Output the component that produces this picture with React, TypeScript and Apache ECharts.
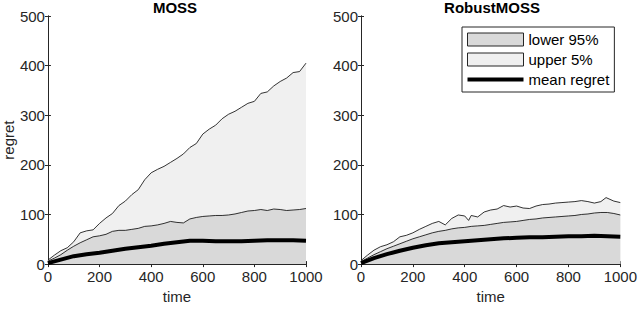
import React, { useEffect, useRef } from "react";
import * as echarts from "echarts";

const T25 = [0, 25, 50, 75, 100, 125, 150, 175, 200, 225, 250, 275, 300, 325, 350, 375, 400, 425, 450, 475, 500, 525, 550, 575, 600, 625, 650, 675, 700, 725, 750, 775, 800, 825, 850, 875, 900, 925, 950, 975, 1000];
const T50 = [0, 50, 100, 150, 200, 250, 300, 350, 400, 450, 500, 550, 600, 650, 700, 750, 800, 850, 900, 950, 1000];

const mossUpper = [8, 18, 27, 33, 45, 63, 67, 69, 82, 93, 102, 118, 127, 140, 150, 170, 184, 191, 197, 205, 213, 222, 235, 243, 262, 272, 280, 293, 302, 308, 316, 324, 328, 344, 347, 359, 368, 375, 386, 388, 405];
const mossLower = [6, 12, 19, 28, 36, 43, 49, 55, 57, 60, 66, 68, 68, 70, 72, 76, 77, 79, 82, 86, 84, 83, 91, 94, 96, 97, 98, 98, 99, 101, 104, 107, 108, 110, 108, 111, 110, 108, 109, 110, 112];
const mossMean = [2, 9, 16, 20, 23, 27, 31, 34, 37, 41, 44, 47, 47, 46, 46, 46, 47, 48, 48, 48, 47];

const robustUpperT = [0, 25, 50, 75, 100, 125, 150, 175, 200, 225, 250, 275, 300, 325, 350, 375, 400, 415, 425, 450, 475, 500, 525, 550, 575, 600, 625, 650, 675, 700, 725, 750, 775, 800, 825, 850, 875, 900, 925, 945, 975, 1000];
const robustUpper = [7, 18, 28, 35, 39, 45, 55, 58, 63, 70, 76, 82, 86, 79, 92, 99, 97, 88, 98, 95, 105, 109, 111, 118, 115, 117, 113, 112, 117, 120, 121, 123, 124, 125, 126, 128, 126, 123, 126, 134, 127, 124];
const robustLower = [5, 12, 19, 25, 31, 36, 41, 46, 51, 55, 59, 63, 66, 68, 71, 73, 74, 76, 77, 78, 80, 82, 84, 85, 86, 88, 90, 91, 93, 94, 95, 96, 97, 98, 100, 101, 103, 104, 104, 102, 99];
const robustMean = [2, 12, 20, 27, 33, 38, 42, 44, 46, 48, 50, 52, 53, 54, 54, 55, 56, 56, 57, 56, 55];

const xTicks = [0, 200, 400, 600, 800, 1000];
const yTicks = [0, 100, 200, 300, 400, 500];
const titles = ["MOSS", "RobustMOSS"];
const names = ["lower 95%", "upper 5%", "mean regret"];

const zip = (t: number[], v: number[]) => t.map((x, i) => [x, v[i]]);

const FONT = "'Liberation Sans', Arial, Helvetica, sans-serif";
const AX = "#262626";
const LOWER_FILL = "#d9d9d9";
const UPPER_FILL = "#f0f0f0";
const FS = 15;

export default function App() {
  const ref = useRef<HTMLDivElement>(null);
  useEffect(() => {
    if (!ref.current) return;
    const chart = echarts.init(ref.current, undefined, { renderer: "svg" });
    const grids = [
      { left: 44, top: 16, width: 262, height: 252 },
      { left: 361, top: 16, width: 262, height: 252 },
    ];
    const xAxes: any[] = [];
    const yAxes: any[] = [];
    grids.forEach((_, g) => {
      xAxes.push({
        type: "value", gridIndex: g, min: xTicks[0], max: xTicks[xTicks.length - 1], interval: 200,
        position: "bottom",
        name: "time", nameLocation: "middle", nameGap: 22,
        nameTextStyle: { fontFamily: FONT, fontSize: FS, color: AX },
        axisLine: { show: true, lineStyle: { color: AX, width: 1 } },
        axisTick: { show: true, inside: true, length: 3, lineStyle: { color: AX } },
        axisLabel: { fontFamily: FONT, fontSize: FS, color: AX, margin: 5, formatter: (v: number) => String(v) },
        splitLine: { show: false },
      });
      xAxes.push({
        type: "value", gridIndex: g, min: 0, max: 1000, interval: 200, position: "top",
        axisLine: { show: true, lineStyle: { color: AX, width: 1 } },
        axisTick: { show: true, inside: true, length: 3, lineStyle: { color: AX } },
        axisLabel: { show: false }, splitLine: { show: false },
      });
      yAxes.push({
        type: "value", gridIndex: g, min: yTicks[0], max: yTicks[yTicks.length - 1], interval: 100,
        position: "left",
        name: g === 0 ? "regret" : "", nameLocation: "middle", nameGap: 30,
        nameTextStyle: { fontFamily: FONT, fontSize: FS, color: AX },
        axisLine: { show: true, lineStyle: { color: AX, width: 1 } },
        axisTick: { show: true, inside: true, length: 3, lineStyle: { color: AX } },
        axisLabel: { fontFamily: FONT, fontSize: FS, color: AX, margin: 3 },
        splitLine: { show: false },
      });
      yAxes.push({
        type: "value", gridIndex: g, min: 0, max: 500, interval: 100, position: "right",
        axisLine: { show: true, lineStyle: { color: AX, width: 1 } },
        axisTick: { show: true, inside: true, length: 3, lineStyle: { color: AX } },
        axisLabel: { show: false }, splitLine: { show: false },
      });
    });

    const panels = [
      { upper: zip(T25, mossUpper), lower: zip(T25, mossLower), mean: zip(T50, mossMean) },
      { upper: zip(robustUpperT, robustUpper), lower: zip(T25, robustLower), mean: zip(T50, robustMean) },
    ];
    const series: any[] = [];
    panels.forEach((p, g) => {
      const base = { type: "line", xAxisIndex: g * 2, yAxisIndex: g * 2, showSymbol: false, symbol: "none", silent: true };
      series.push({
        ...base, name: names[1], data: p.upper, z: 2,
        color: UPPER_FILL,
        lineStyle: { color: "#000", width: 0.8 },
        areaStyle: { color: UPPER_FILL, opacity: 1 },
      });
      series.push({
        ...base, name: names[0], data: p.lower, z: 3,
        color: LOWER_FILL,
        lineStyle: { color: "#000", width: 0.8 },
        areaStyle: { color: LOWER_FILL, opacity: 1 },
      });
      series.push({
        ...base, name: names[2], data: p.mean, z: 4,
        color: "#000",
        lineStyle: { color: "#000", width: 4 },
      });
    });

    chart.setOption({
      animation: false,
      backgroundColor: "#fff",
      textStyle: { fontFamily: FONT },
      grid: grids,
      xAxis: xAxes,
      yAxis: yAxes,
      series,
      graphic: titles.map((t, i) => ({
        type: "text",
        x: grids[i].left + grids[i].width / 2,
        y: 0,
        style: { text: t, font: `bold 15px ${FONT}`, fill: "#000", textAlign: "center", textVerticalAlign: "top" },
      })),
      legend: {
        orient: "vertical", left: 462, top: 27,
        itemWidth: 56, itemHeight: 13, itemGap: 5,
        padding: [5, 5, 5, 5],
        borderColor: AX, borderWidth: 1, backgroundColor: "#fff",
        selectedMode: false,
        textStyle: { fontFamily: FONT, fontSize: FS, lineHeight: 15, color: "#000" },
        data: [
          { name: names[0], icon: "rect", itemStyle: { color: LOWER_FILL, borderColor: AX, borderWidth: 1 } },
          { name: names[1], icon: "rect", itemStyle: { color: UPPER_FILL, borderColor: AX, borderWidth: 1 } },
          { name: names[2], icon: "path://M0,0H56V4H0Z", itemStyle: { color: "#000", borderWidth: 0 } },
        ],
      },
    });
    return () => chart.dispose();
  }, []);
  return <div ref={ref} style={{ position: "fixed", left: 0, top: 0, width: 640, height: 309 }} />;
}
